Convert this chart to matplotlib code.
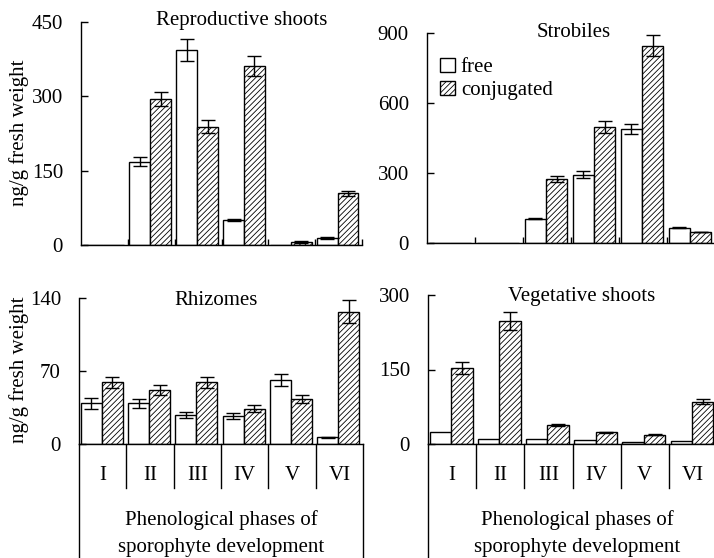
import numpy as np
import matplotlib
matplotlib.use('Agg')
import matplotlib.pyplot as plt
from matplotlib.patches import Patch

plt.rcParams['font.family'] = ['Liberation Serif', 'DejaVu Serif']
plt.rcParams['font.size'] = 15
plt.rcParams['hatch.linewidth'] = 0.6

# data (ng/g fresh weight), phases I..VI
phases = ['I', 'II', 'III', 'IV', 'V', 'VI']

repro_free = [0, 168, 393, 50, 1, 15]
repro_free_err = [0, 9, 22, 2, 0, 2]
repro_conj = [0, 294, 239, 362, 7, 104]
repro_conj_err = [0, 14, 13, 20, 2, 5]

strob_free = [0, 0, 103, 291, 487, 64]
strob_free_err = [0, 0, 3, 15, 23, 3]
strob_conj = [0, 0, 273, 496, 844, 46]
strob_conj_err = [0, 0, 12, 27, 45, 2]

rhiz_free = [39, 39, 28, 27, 61.5, 6.4]
rhiz_free_err = [5, 4, 3, 3, 5.5, 0.5]
rhiz_conj = [59, 52, 59, 34, 43, 127]
rhiz_conj_err = [5, 5, 5, 3, 4, 11]

veg_free = [25, 11, 11, 9, 5, 7]
veg_free_err = [0, 0, 0, 0, 0, 0]
veg_conj = [153, 248, 38, 23.5, 19, 85]
veg_conj_err = [12, 18, 2, 1.5, 1, 5]

repro_ticks = [0, 150, 300, 450]
strob_ticks = [0, 300, 600, 900]
rhiz_ticks = [0, 70, 140]
veg_ticks = [0, 150, 300]

W, H = 714, 558
fig = plt.figure(figsize=(W / 100, H / 100), dpi=100)


def draw_panel(rect, free, free_err, conj, conj_err, yticks, title, tx, ty):
    ax = fig.add_axes(rect)
    x = np.arange(len(phases))
    bw = 0.445
    ax.bar(x + 0.035, free, width=bw, align='edge', color='white', edgecolor='k', linewidth=1.0)
    ax.bar(x + 0.48, conj, width=bw, align='edge', color='white', edgecolor='k', linewidth=1.0, hatch='//////')
    fe = np.array(free_err, dtype=float)
    ce = np.array(conj_err, dtype=float)
    m = fe > 0
    ax.errorbar((x + 0.035 + bw / 2)[m], np.array(free)[m], yerr=fe[m], fmt='none', ecolor='k', elinewidth=1, capsize=5, capthick=1)
    m = ce > 0
    ax.errorbar((x + 0.48 + bw / 2)[m], np.array(conj)[m], yerr=ce[m], fmt='none', ecolor='k', elinewidth=1, capsize=5, capthick=1)
    ax.set_xlim(0, 6)
    ax.set_ylim(0, yticks[-1])
    ax.set_yticks(yticks)
    ax.set_yticklabels([str(v) for v in yticks])
    ax.tick_params(axis='y', direction='in', length=5, width=1, pad=13)
    ax.spines['top'].set_visible(False)
    ax.spines['right'].set_visible(False)
    ax.spines['left'].set_linewidth(1)
    ax.spines['bottom'].set_linewidth(1)
    ax.text(tx, ty, title, transform=ax.transAxes, ha='center', va='center')
    return ax


ax1 = draw_panel([81 / W, 1 - 245 / H, 281 / W, 223 / H], repro_free, repro_free_err, repro_conj, repro_conj_err,
                 repro_ticks, 'Reproductive shoots', 0.573, 1.007)
ax2 = draw_panel([427 / W, 1 - 242.7 / H, 288 / W, 210 / H], strob_free, strob_free_err, strob_conj, strob_conj_err,
                 strob_ticks, 'Strobiles', 0.51, 1.0)
ax3 = draw_panel([79 / W, 1 - 444 / H, 284 / W, 146 / H], rhiz_free, rhiz_free_err, rhiz_conj, rhiz_conj_err,
                 rhiz_ticks, 'Rhizomes', 0.482, 0.986)
ax4 = draw_panel([428 / W, 1 - 444 / H, 289 / W, 149 / H], veg_free, veg_free_err, veg_conj, veg_conj_err,
                 veg_ticks, 'Vegetative shoots', 0.533, 0.993)

# top panels: small inward ticks at group boundaries
for ax in [ax1, ax2]:
    ax.set_xticks([1, 2, 3, 4, 5, 6])
    ax.set_xticklabels([])
    ax.tick_params(axis='x', direction='in', length=4, width=1)

# bottom panels: table-like phase labels under the axis
for ax, cx in [(ax3, 3.0), (ax4, 3.1)]:
    ax.set_xticks([])
    trans = ax.get_xaxis_transform()
    h_px = ax.get_position().height * H
    for b in range(1, 6):
        ax.plot([b, b], [0, -44 / h_px], color='k', lw=1, transform=trans, clip_on=False)
    ax.plot([0, 0], [0, -130 / h_px], color='k', lw=1, transform=trans, clip_on=False)
    ax.plot([6, 6], [0, -130 / h_px], color='k', lw=1, transform=trans, clip_on=False)
    for i, p in enumerate(phases):
        ax.annotate(p, xy=(i + 0.5, 0), xycoords=trans, xytext=(0, -23), textcoords='offset points',
                    ha='center', va='center')
    ax.annotate('Phenological phases of', xy=(cx, 0), xycoords=trans, xytext=(0, -54.5),
                textcoords='offset points', ha='center', va='center')
    ax.annotate('sporophyte development', xy=(cx, 0), xycoords=trans, xytext=(0, -74.5),
                textcoords='offset points', ha='center', va='center')

# legend in the strobiles panel
handles = [Patch(facecolor='white', edgecolor='k', linewidth=1),
           Patch(facecolor='white', edgecolor='k', linewidth=1, hatch='//////')]
ax2.legend(handles, ['free', 'conjugated'], loc='upper left', bbox_to_anchor=(0.045, 0.88),
           frameon=False, handlelength=0.7, handleheight=0.7, handletextpad=0.3,
           labelspacing=0.15, borderpad=0, borderaxespad=0)

fig.text(19 / W, 1 - 133 / H, 'ng/g fresh weight', rotation=90, ha='center', va='center')
fig.text(19 / W, 1 - 370 / H, 'ng/g fresh weight', rotation=90, ha='center', va='center')

fig.savefig('out.png', dpi=100)
